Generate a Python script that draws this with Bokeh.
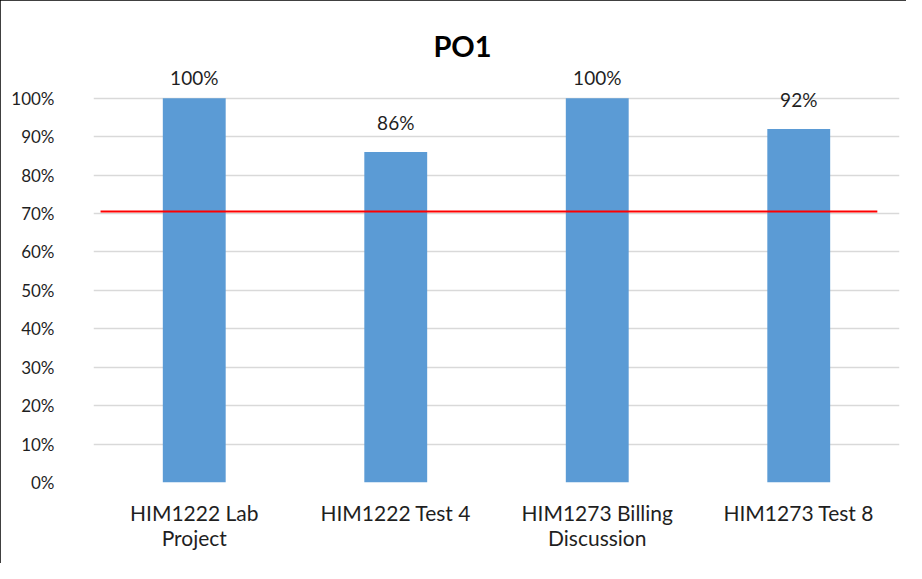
import numpy as np
from bokeh.plotting import figure
from bokeh.models import Range1d, FixedTicker, Label
from bokeh.core.properties import value
from bokeh.embed import file_html
from bokeh.resources import INLINE

# ---- data ----
categories = ["HIM1222 Lab\nProject", "HIM1222 Test 4", "HIM1273 Billing\nDiscussion", "HIM1273 Test 8"]
scores = [1.00, 0.86, 1.00, 0.92]
score_labels = ["100%", "86%", "100%", "92%"]
target = 0.705
target_start = 0.035
target_end = 3.89
y_ticks = [0.0, 0.1, 0.2, 0.3, 0.4, 0.5, 0.6, 0.7, 0.8, 0.9, 1.0]
y_tick_labels = ["0%", "10%", "20%", "30%", "40%", "50%", "60%", "70%", "80%", "90%", "100%"]
title_text = "PO1"

# ---- layout ----
W, H = 906, 563
FONT = "Lato"
TXT = "#1F1F1F"
LEFT, RIGHT, TOP, BOTTOM = 93, 7, 20, 81
px_per_unit = 384.3
y_end = 1.0 + (97.7 - TOP) / px_per_unit
px_per_cat = (W - LEFT - RIGHT) / len(categories)
title_center_px = 462  # chart-area centre (chart frame extends past the window on the right)

xs = np.arange(len(categories)) + 0.5

p = figure(width=W, height=H, output_backend="svg", toolbar_location=None,
           x_range=Range1d(0, len(categories)), y_range=Range1d(0, y_end),
           min_border_left=LEFT, min_border_right=RIGHT, min_border_top=TOP,
           min_border_bottom=BOTTOM)
p.styles = {"outline": "2px solid black", "outline-offset": "-2px"}
p.background_fill_color = "white"
p.border_fill_color = "white"
p.outline_line_color = None

# grid
p.xgrid.visible = False
p.ygrid.ticker = FixedTicker(ticks=y_ticks)
p.ygrid.grid_line_color = "#D9D9D9"
p.ygrid.grid_line_width = 1.5

# y axis
p.yaxis.ticker = FixedTicker(ticks=y_ticks)
p.yaxis.major_label_overrides = {t: l for t, l in zip(y_ticks, y_tick_labels)}
p.yaxis.axis_line_color = None
p.yaxis.major_tick_line_color = None
p.yaxis.minor_tick_line_color = None
p.yaxis.major_label_standoff = 33
p.yaxis.major_label_text_font = FONT
p.yaxis.major_label_text_font_size = "17px"
p.yaxis.major_label_text_color = TXT

# x axis
p.xaxis.ticker = FixedTicker(ticks=list(xs))
p.xaxis.major_label_overrides = {float(x): c for x, c in zip(xs, categories)}
p.xaxis.axis_line_color = None
p.xaxis.major_tick_line_color = None
p.xaxis.minor_tick_line_color = None
p.xaxis.major_label_standoff = 11
p.xaxis.major_label_text_font = FONT
p.xaxis.major_label_text_font_size = "21px"
p.xaxis.major_label_text_line_height = 1.0
p.xaxis.major_label_text_color = TXT

# bars
p.vbar(x=xs, top=scores, width=0.312, bottom=0, fill_color="#5B9BD5", line_color=None)

# data labels (Excel clamps labels near the top of the plot area)
label_y = np.minimum(np.array(scores) + 18 / px_per_unit, 1.0 + 9 / px_per_unit)
p.text(x=xs, y=label_y, text=score_labels, text_align="center", text_baseline="bottom",
       text_font=value(FONT), text_font_size="19px", text_color=TXT)

# target line
p.line(x=[target_start, target_end], y=[target, target], line_color="#FF0000", line_width=2)

# title, centred over the chart area
p.add_layout(Label(x=(title_center_px - LEFT) / px_per_cat, y=y_end - (45 - TOP) / px_per_unit,
                   text=title_text, text_align="center", text_baseline="middle",
                   text_font=FONT, text_font_size="29px", text_font_style="bold",
                   text_color="black"))

open("out.html", "w").write(file_html(p, INLINE))
